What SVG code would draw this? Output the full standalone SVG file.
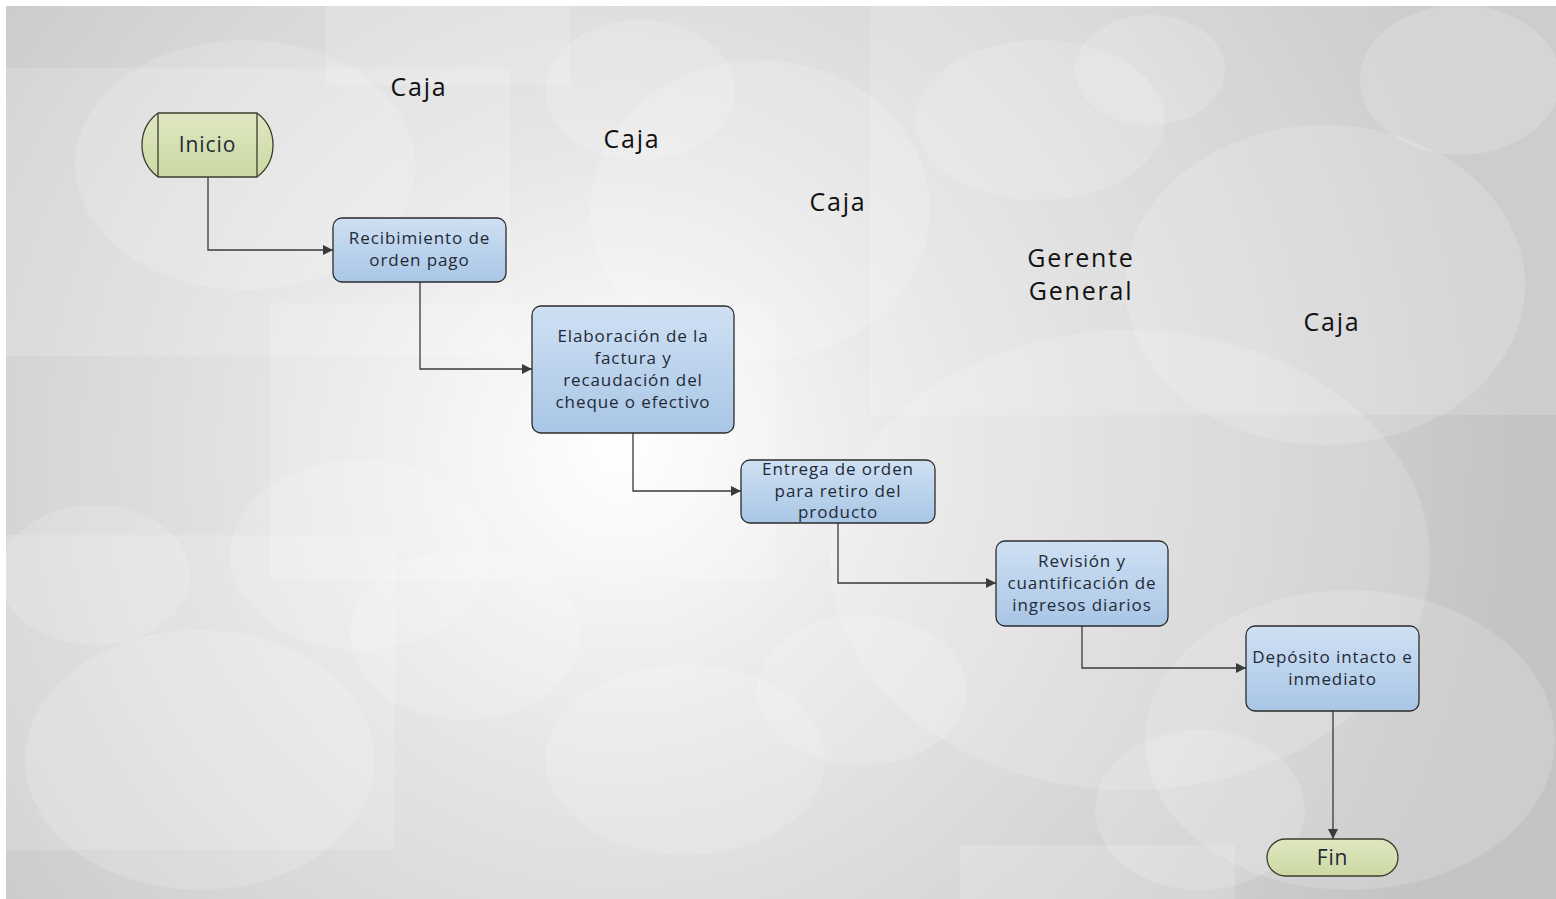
<svg xmlns="http://www.w3.org/2000/svg" width="1556" height="899" viewBox="0 0 1556 899">
<defs>
<radialGradient id="bg" cx="620" cy="450" r="900" gradientUnits="userSpaceOnUse">
<stop offset="0" stop-color="#ffffff"/>
<stop offset="0.35" stop-color="#e6e6e6"/>
<stop offset="1" stop-color="#c4c4c4"/>
</radialGradient>
<linearGradient id="blue" x1="0" y1="0" x2="0" y2="1">
<stop offset="0" stop-color="#cfe0f3"/>
<stop offset="1" stop-color="#a9c6e6"/>
</linearGradient>
<linearGradient id="green" x1="0" y1="0" x2="0" y2="1">
<stop offset="0" stop-color="#dfe7c2"/>
<stop offset="1" stop-color="#ccd9a3"/>
</linearGradient>
<marker id="arr" viewBox="0 0 10 10" refX="10" refY="5" markerWidth="11" markerHeight="10" markerUnits="userSpaceOnUse" orient="auto">
<path d="M0,0 L10,5 L0,10 z" fill="#3a3a3a"/>
</marker>
<style>
.deco{fill:#ffffff;opacity:0.16}
.proc{fill:url(#blue);stroke:#2b2b2b;stroke-width:1.3}
.term{fill:url(#green);stroke:#3c3c2c;stroke-width:1.3}
.t{font-family:"Open Sans",Lato,sans-serif;font-size:17px;letter-spacing:0.9px;fill:#1f2a36;text-anchor:middle}
.lane{font-family:"Open Sans",Lato,sans-serif;font-size:25px;letter-spacing:1.8px;fill:#111;text-anchor:middle}
.con{fill:none;stroke:#3a3a3a;stroke-width:1.3;marker-end:url(#arr)}
</style>
</defs>
<rect width="1556" height="899" fill="#ffffff"/>
<g id="background">
<rect x="6" y="6" width="1550" height="893" fill="url(#bg)"/>
<rect class="deco" x="325" y="6" width="245" height="79"/>
<rect class="deco" x="6" y="68" width="504" height="288"/>
<rect class="deco" x="270" y="303" width="505" height="277"/>
<rect class="deco" x="6" y="535" width="389" height="315"/>
<rect class="deco" x="870" y="6" width="686" height="409"/>
<rect class="deco" x="960" y="845" width="275" height="54"/>
<ellipse class="deco" cx="245" cy="165" rx="170" ry="125"/>
<ellipse class="deco" cx="640" cy="90" rx="95" ry="70"/>
<ellipse class="deco" cx="760" cy="210" rx="170" ry="150"/>
<ellipse class="deco" cx="1040" cy="120" rx="125" ry="80"/>
<ellipse class="deco" cx="1150" cy="70" rx="75" ry="55"/>
<ellipse class="deco" cx="1460" cy="80" rx="100" ry="75"/>
<ellipse class="deco" cx="1325" cy="285" rx="200" ry="160"/>
<ellipse class="deco" cx="1130" cy="560" rx="300" ry="230"/>
<ellipse class="deco" cx="360" cy="555" rx="130" ry="95"/>
<ellipse class="deco" cx="95" cy="575" rx="95" ry="70"/>
<ellipse class="deco" cx="465" cy="635" rx="115" ry="85"/>
<ellipse class="deco" cx="200" cy="760" rx="175" ry="130"/>
<ellipse class="deco" cx="685" cy="760" rx="140" ry="95"/>
<ellipse class="deco" cx="862" cy="690" rx="105" ry="75"/>
<ellipse class="deco" cx="1200" cy="810" rx="105" ry="80"/>
<ellipse class="deco" cx="1350" cy="740" rx="205" ry="150"/>
</g>
<g id="lanes">
<text class="lane" x="419" y="96">Caja</text>
<text class="lane" x="632" y="148">Caja</text>
<text class="lane" x="838" y="211">Caja</text>
<text class="lane" x="1081" y="267">Gerente</text>
<text class="lane" x="1081" y="300">General</text>
<text class="lane" x="1332" y="331">Caja</text>
</g>
<g id="connectors">
<path class="con" d="M208,177 V250 H333"/>
<path class="con" d="M420,282 V369 H532"/>
<path class="con" d="M633,433 V491 H741"/>
<path class="con" d="M838,523 V583 H996"/>
<path class="con" d="M1082,626 V668 H1246"/>
<path class="con" d="M1333,711 V839"/>
</g>
<g id="inicio">
<path class="term" d="M158,113 H257 Q273,125 273,145 Q273,165 257,177 H158 Q142,165 142,145 Q142,125 158,113 Z"/>
<line x1="158" y1="113" x2="158" y2="177" stroke="#3c3c2c" stroke-width="1.3"/>
<line x1="257" y1="113" x2="257" y2="177" stroke="#3c3c2c" stroke-width="1.3"/>
<text class="t" x="207.5" y="152" style="font-size:21px">Inicio</text>
</g>
<g id="recibimiento">
<rect class="proc" x="333" y="218" width="173" height="64" rx="9"/>
<text class="t" x="419.5" y="244">Recibimiento de</text>
<text class="t" x="419.5" y="266">orden pago</text>
</g>
<g id="elaboracion">
<rect class="proc" x="532" y="306" width="202" height="127" rx="9"/>
<text class="t" x="633" y="342">Elaboración de la</text>
<text class="t" x="633" y="364">factura y</text>
<text class="t" x="633" y="386">recaudación del</text>
<text class="t" x="633" y="408">cheque o efectivo</text>
</g>
<g id="entrega">
<rect class="proc" x="741" y="460" width="194" height="63" rx="9"/>
<text class="t" x="838" y="475">Entrega de orden</text>
<text class="t" x="838" y="497">para retiro del</text>
<text class="t" x="838" y="518">producto</text>
</g>
<g id="revision">
<rect class="proc" x="996" y="541" width="172" height="85" rx="9"/>
<text class="t" x="1082" y="567">Revisión y</text>
<text class="t" x="1082" y="589">cuantificación de</text>
<text class="t" x="1082" y="611">ingresos diarios</text>
</g>
<g id="deposito">
<rect class="proc" x="1246" y="626" width="173" height="85" rx="9"/>
<text class="t" x="1332.5" y="663">Depósito intacto e</text>
<text class="t" x="1332.5" y="685">inmediato</text>
</g>
<g id="fin">
<rect class="term" x="1267" y="839" width="131" height="37" rx="18.5"/>
<text class="t" x="1332.5" y="865" style="font-size:21px">Fin</text>
</g>
</svg>
